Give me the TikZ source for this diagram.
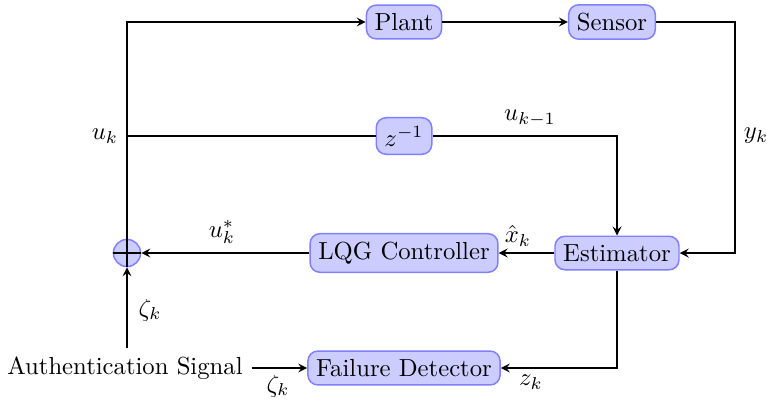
\documentclass[tikz,border=0pt]{standalone}
\usetikzlibrary{positioning}
\tikzset{
  block/.style={draw=blue!50,fill=blue!20,semithick,rounded corners},
  sumnode/.style={circle,draw=blue!50,fill=blue!20,semithick,minimum size=11pt,inner sep=0pt},
}
\begin{document}
\begin{tikzpicture}[x=0.01424cm,y=-0.01424cm,>=stealth,semithick]
    \useasboundingbox (0,0) rectangle (767,406);
    \node[block] (plant) at (404,22) {Plant};
    \node[block] (sensor) at (612,22) {Sensor};
    \node[block] (delay) at (404,136) {$z^{-1}$};
    \node[block] (est) at (617,253) {Estimator};
    \node[block] (lqg) at (404,253) {LQG Controller};
    \node[block] (fd) at (404,368) {Failure Detector};
    \node[sumnode] (sum) at (127,253) {};
    \node (auth) at (125,368) {Authentication Signal};
    \coordinate (uk) at (127,136);
    \coordinate (yk) at (735,136);
    \draw (sum.north) -- (sum.south);
    \draw (sum.west) -- (sum.east);
    \draw[->] (sum.north) |- (plant.west);
    \draw[->] (plant) -- (sensor);
    \draw[->] (sensor.east) -| (yk) |- (est.east);
    \draw (uk) -- (delay.west);
    \draw[->] (delay.east) -| (est.north);
    \draw[->] (est) -- (lqg);
    \draw[->] (lqg) -- (sum);
    \draw[->] (est.south) |- (fd.east);
    \draw[->] (auth) -- (fd);
    \draw[->] (sum |- auth.north) -- (sum);
    \node[left] at (uk) {$u_k$};
    \node[right] at (yk) {$y_k$};
    \node at (530,118) {$u_{k-1}$};
    \node at (518,236) {$\hat{x}_k$};
    \node at (222,232) {$u_k^*$};
    \node at (150,310) {$\zeta_k$};
    \node at (278,386) {$\zeta_k$};
    \node at (531,382) {$z_k$};
  \end{tikzpicture}
\end{document}
